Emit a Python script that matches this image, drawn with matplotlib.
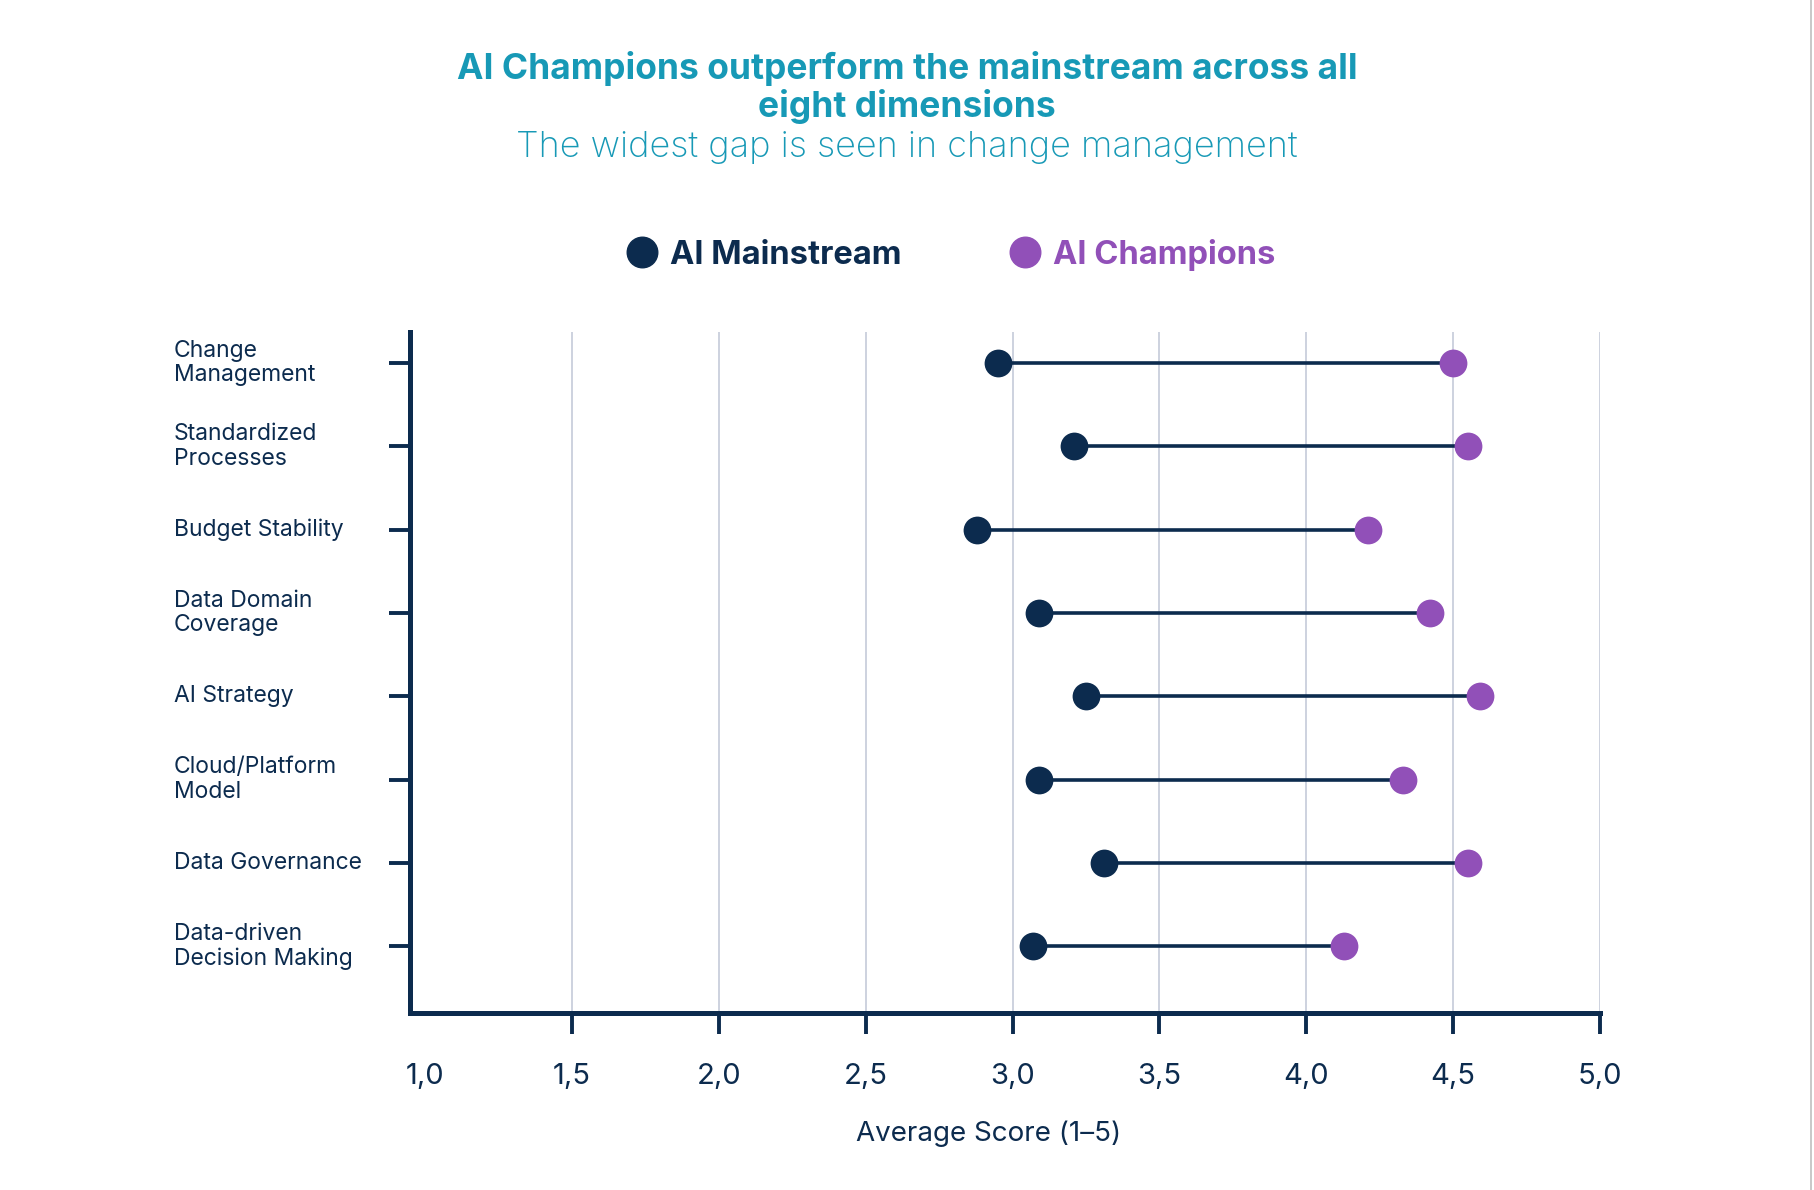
import matplotlib.pyplot as plt
import matplotlib.transforms as mtransforms
from matplotlib.lines import Line2D
from matplotlib.ticker import FuncFormatter

# Data (average score 1-5)
categories = ['Change\nManagement', 'Standardized\nProcesses', 'Budget Stability',
              'Data Domain\nCoverage', 'AI Strategy', 'Cloud/Platform\nModel',
              'Data Governance', 'Data-driven\nDecision Making']
mainstream = [2.95, 3.21, 2.88, 3.09, 3.25, 3.09, 3.31, 3.07]
champions = [4.50, 4.55, 4.21, 4.42, 4.59, 4.33, 4.55, 4.13]
x_ticks = [1.0, 1.5, 2.0, 2.5, 3.0, 3.5, 4.0, 4.5, 5.0]

NAVY = '#0c2b4e'
PURPLE = '#9150b8'
TEAL = '#1799b6'
GRID = '#c9cfdc'

plt.rcParams['font.family'] = ['Inter', 'DejaVu Sans']

fig = plt.figure(figsize=(18.14, 11.90), dpi=100)
fig.patch.set_facecolor('white')
ax = fig.add_axes([0.2258, 0.1487, 0.6562, 0.5723])

ypos = list(range(len(categories)))

# dumbbell lines and dots
ax.hlines(ypos, mainstream, champions, color=NAVY, lw=2.6, zorder=2)
ax.scatter(mainstream, ypos, s=400, color=NAVY, zorder=3, linewidths=0)
ax.scatter(champions, ypos, s=400, color=PURPLE, zorder=3, linewidths=0)

ax.set_xlim(0.947, 5.0)
ax.set_ylim(7.80, -0.372)

# axes styling
for side in ['top', 'right']:
    ax.spines[side].set_visible(False)
for side in ['left', 'bottom']:
    ax.spines[side].set_color(NAVY)
    ax.spines[side].set_linewidth(3.6)

ax.set_xticks(x_ticks)
ax.xaxis.set_major_formatter(FuncFormatter(lambda v, p: f'{v:.1f}'.replace('.', ',')))
ax.tick_params(axis='x', length=15, width=2.8, color=NAVY, pad=21,
               labelsize=21, labelcolor=NAVY)
ax.grid(axis='x', color=GRID, lw=1.3, zorder=0)
ax.set_axisbelow(True)
first = ax.xaxis.get_major_ticks()[0]
first.tick1line.set_visible(False)
first.gridline.set_visible(False)

ax.set_yticks(ypos)
ax.set_yticklabels([])
ax.tick_params(axis='y', length=15, width=2.8, color=NAVY)

# left-aligned category labels
trans = mtransforms.blended_transform_factory(fig.transFigure, ax.transData)
for y, label in zip(ypos, categories):
    ax.text(0.0959, y, label, transform=trans, ha='left', va='center',
            fontsize=16.5, color=NAVY, linespacing=1.15)

fig.text(0.545, 0.047, 'Average Score (1–5)', ha='center', va='center',
         fontsize=20, color=NAVY)

# titles
fig.text(0.5, 1 - 68 / 1190, 'AI Champions outperform the mainstream across all',
         ha='center', va='center', fontsize=25.5, fontweight='bold', color=TEAL)
fig.text(0.5, 1 - 106 / 1190, 'eight dimensions',
         ha='center', va='center', fontsize=25.5, fontweight='bold', color=TEAL)
fig.text(0.5, 1 - 148 / 1190, 'The widest gap is seen in change management',
         ha='center', va='center', fontsize=26, fontweight='light', color=TEAL)

# legend
handles = [
    Line2D([], [], marker='o', ls='', ms=22, color=NAVY, label='AI Mainstream'),
    Line2D([], [], marker='o', ls='', ms=22, color=PURPLE, label='AI Champions'),
]
leg = fig.legend(handles=handles, loc='center', bbox_to_anchor=(0.524, 0.786),
                 ncol=2, frameon=False, handlelength=1.0, handletextpad=0.35,
                 columnspacing=3.3, borderpad=0,
                 prop={'size': 23.5, 'weight': 'bold'}, labelcolor='markerfacecolor')

# thin border at the right edge
fig.add_artist(Line2D([0.9985, 0.9985], [0, 1], color='#bfbfbf', lw=1.2,
                      transform=fig.transFigure))

fig.savefig('out.png', dpi=100)
